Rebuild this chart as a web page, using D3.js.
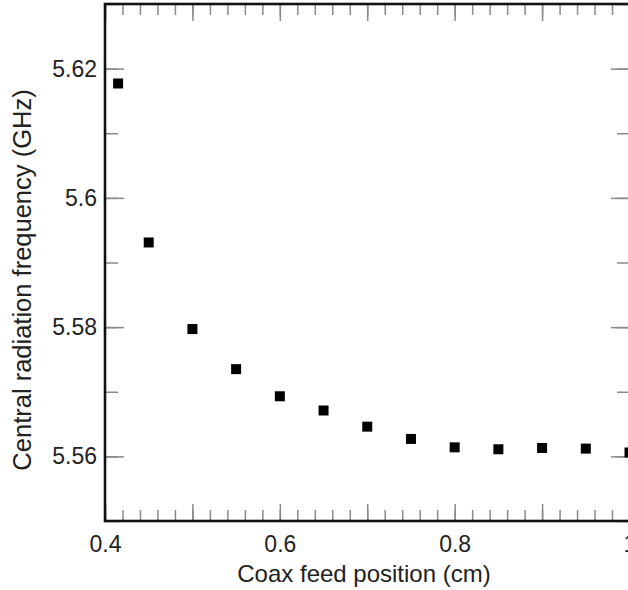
<!DOCTYPE html>
<html>
<head>
<meta charset="utf-8">
<script src="https://cdn.jsdelivr.net/npm/d3@7"></script>
<style>
  body { margin: 0; background: #fff; }
  svg { display: block; overflow: hidden; }
  text { font-family: "Liberation Sans", Arial, sans-serif; }
</style>
</head>
<body>
<div id="chart-area"></div>
<script>
// data
var feedPosition = [0.415, 0.45, 0.5, 0.55, 0.6, 0.65, 0.7, 0.75, 0.8, 0.85, 0.9, 0.95, 1.0];
var centralFreq = [5.6177, 5.5931, 5.5797, 5.5735, 5.5693, 5.5671, 5.5646, 5.5627, 5.5614, 5.5611, 5.5613, 5.5612, 5.5606];
var xTickLabels = [0.4, 0.6, 0.8, 1.0];
var yTickLabels = [5.56, 5.58, 5.6, 5.62];

var width = 628;
var height = 590;

var plot = { left: 105, right: 630, top: 4, bottom: 521 };

var svg = d3.select("#chart-area").append("svg")
    .attr("width", width)
    .attr("height", height);

var x = d3.scaleLinear()
    .domain([0.4, 1.0])
    .range([plot.left, plot.right - 0.5]);

var y = d3.scaleLinear()
    .domain([5.55, 5.63])
    .range([plot.bottom, plot.top]);

var tickFont = "23px";

function styleTicks(g) {
    g.select(".domain").remove();
    g.selectAll(".tick line")
        .attr("stroke", "#8a8a8a")
        .attr("stroke-width", 1.5);
}

function styleLabels(g) {
    g.selectAll("text")
        .attr("font-size", tickFont)
        .attr("font-family", "Liberation Sans, Arial, sans-serif")
        .attr("fill", "#222");
}

// x minor ticks every 0.02, medium every 0.1
var xMinor = x.ticks(30);
var xMedium = x.ticks(6);

svg.append("g")
    .attr("transform", "translate(0," + plot.bottom + ")")
    .call(d3.axisBottom(x).tickValues(xMinor).tickSize(-11).tickFormat(""))
    .call(styleTicks);
svg.append("g")
    .attr("transform", "translate(0," + plot.bottom + ")")
    .call(d3.axisBottom(x).tickValues(xMedium).tickSize(-17).tickFormat(""))
    .call(styleTicks);
svg.append("g")
    .attr("transform", "translate(0," + plot.top + ")")
    .call(d3.axisTop(x).tickValues(xMinor).tickSize(-11).tickFormat(""))
    .call(styleTicks);
svg.append("g")
    .attr("transform", "translate(0," + plot.top + ")")
    .call(d3.axisTop(x).tickValues(xMedium).tickSize(-17).tickFormat(""))
    .call(styleTicks);

// x labels
svg.append("g")
    .attr("transform", "translate(0," + plot.bottom + ")")
    .call(d3.axisBottom(x).tickValues(xTickLabels).tickSize(0).tickPadding(15)
        .tickFormat(function(d) { return d3.format("~g")(d); }))
    .call(function(g) { g.select(".domain").remove(); })
    .call(styleLabels);

// y ticks every 0.01, labelled ones longer
var yMinor = y.ticks(8);

svg.append("g")
    .attr("transform", "translate(" + plot.left + ",0)")
    .call(d3.axisLeft(y).tickValues(yMinor).tickSize(-13).tickFormat(""))
    .call(styleTicks);
svg.append("g")
    .attr("transform", "translate(" + plot.right + ",0)")
    .call(d3.axisRight(y).tickValues(yMinor).tickSize(-13).tickFormat(""))
    .call(styleTicks);
svg.append("g")
    .attr("transform", "translate(" + plot.right + ",0)")
    .call(d3.axisRight(y).tickValues(yTickLabels).tickSize(-19).tickFormat(""))
    .call(styleTicks);
svg.append("g")
    .attr("transform", "translate(" + plot.left + ",0)")
    .call(d3.axisLeft(y).tickValues(yTickLabels).tickSize(-19).tickPadding(8)
        .tickFormat(function(d) { return d3.format("~g")(d); }))
    .call(styleTicks)
    .call(styleLabels);

// frame
svg.append("rect")
    .attr("x", plot.left)
    .attr("y", plot.top)
    .attr("width", plot.right - plot.left)
    .attr("height", plot.bottom - plot.top)
    .attr("fill", "none")
    .attr("stroke", "#111")
    .attr("stroke-width", 2.6);

// points
var size = 10;
svg.append("g").selectAll("rect")
    .data(feedPosition)
    .enter()
    .append("rect")
    .attr("x", function(d) { return x(d) - size / 2; })
    .attr("y", function(d, i) { return y(centralFreq[i]) - size / 2; })
    .attr("width", size)
    .attr("height", size)
    .attr("fill", "#000");

// X Label
svg.append("text")
    .attr("x", 364)
    .attr("y", 582)
    .attr("font-size", "24px")
    .attr("text-anchor", "middle")
    .style("fill", "#222")
    .text("Coax feed position (cm)");

// Y Label
svg.append("text")
    .attr("transform", "translate(31,280) rotate(-90)")
    .attr("font-size", "25.5px")
    .attr("text-anchor", "middle")
    .style("fill", "#222")
    .text("Central radiation frequency (GHz)");
</script>
</body>
</html>
